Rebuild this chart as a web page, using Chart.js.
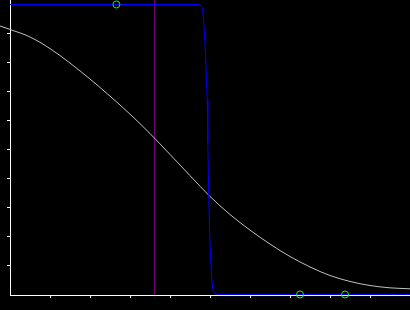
<!DOCTYPE html>
<html>
<head>
<meta charset="utf-8">
<script src="https://cdn.jsdelivr.net/npm/chart.js@4"></script>
<style>
  html, body { margin: 0; padding: 0; background: #000; overflow: hidden; }
  canvas { display: block; }
</style>
</head>
<body>
<canvas id="chart" width="410" height="310"></canvas>
<script>
// Smooth falling curve (grey)
const curveX = [-0.25, 0, 0.5, 1.0, 1.5, 2.0, 2.5, 3.0, 3.5, 4.0, 4.5, 5.0, 5.5, 6.0, 6.5, 7.0, 7.5, 8.0, 8.5, 9.0, 9.5, 10];
const curveY = [0.926, 0.914, 0.888, 0.848, 0.798, 0.743, 0.684, 0.622, 0.555, 0.483, 0.410, 0.338, 0.276, 0.222, 0.174, 0.131, 0.095, 0.0655, 0.045, 0.031, 0.023, 0.0197];

// Steep drop (blue)
const stepX = [0, 4.725, 4.775, 4.8125, 4.833, 4.858, 4.8875, 4.9125, 4.933, 4.945, 4.97, 4.995, 5.02, 5.045, 5.07, 5.1, 5.175, 10];
const stepY = [1, 1, 0.9955, 0.9897, 0.955, 0.908, 0.828, 0.731, 0.672, 0.524, 0.328, 0.2, 0.110, 0.052, 0.017, 0.007, 0, 0];

// Vertical marker (purple)
const markerX = 3.61;

// Green circles
const circleX = [2.66, 7.25, 8.375];
const circleY = [1, 0, 0];

// Axes (y range nudged half a pixel so 0 and 1 land on pixel centres)
const xMin = 0, xMax = 10;
const yMin = -0.5 / 290, yMax = 294.5 / 290;
const xTicks = [1, 2, 3, 4, 5, 6, 7, 8, 9];
const yTicks = [0.1, 0.2, 0.3, 0.4, 0.5, 0.6, 0.7, 0.8, 0.9];

function toPoints(xs, ys) {
    return xs.map((x, i) => ({ x: x, y: ys[i] }));
}

const ctx = document.getElementById("chart").getContext("2d");

new Chart(ctx, {
    type: "scatter",
    data: {
        datasets: [
            {
                data: toPoints(circleX, circleY),
                showLine: false,
                pointRadius: 3.5,
                pointBorderColor: "#00ff00",
                pointBackgroundColor: "rgba(0,0,0,0)",
                pointBorderWidth: 1,
                clip: false,
                order: 0
            },
            {
                data: toPoints(stepX, stepY),
                showLine: true,
                borderColor: "#0000ff",
                borderWidth: 1,
                tension: 0,
                pointRadius: 0,
                clip: false,
                order: 1
            },
            {
                data: toPoints(curveX, curveY),
                showLine: true,
                borderColor: "#c0c0c0",
                borderWidth: 1,
                cubicInterpolationMode: "monotone",
                pointRadius: 0,
                clip: false,
                order: 2
            },
            {
                data: [{ x: markerX, y: yMin }, { x: markerX, y: yMax }],
                showLine: true,
                borderColor: "#800080",
                borderWidth: 1,
                pointRadius: 0,
                order: 3
            }
        ]
    },
    options: {
        responsive: false,
        animation: false,
        layout: { padding: 0, autoPadding: false },
        plugins: {
            legend: { display: false },
            tooltip: { enabled: false }
        },
        scales: {
            x: {
                type: "linear",
                min: xMin,
                max: xMax,
                afterBuildTicks: axis => { axis.ticks = xTicks.map(v => ({ value: v })); },
                afterFit: axis => { axis.height = 15; },
                ticks: { display: false },
                grid: { drawOnChartArea: false, drawTicks: true, tickLength: 3, color: "#ffffff" },
                border: { display: true, color: "#ffffff", width: 1 }
            },
            y: {
                type: "linear",
                min: yMin,
                max: yMax,
                afterBuildTicks: axis => { axis.ticks = yTicks.map(v => ({ value: v })); },
                afterFit: axis => { axis.width = 10; },
                ticks: { display: false },
                grid: { drawOnChartArea: false, drawTicks: true, tickLength: 3, color: "#ffffff" },
                border: { display: true, color: "#ffffff", width: 1 }
            }
        }
    }
});
</script>
</body>
</html>
